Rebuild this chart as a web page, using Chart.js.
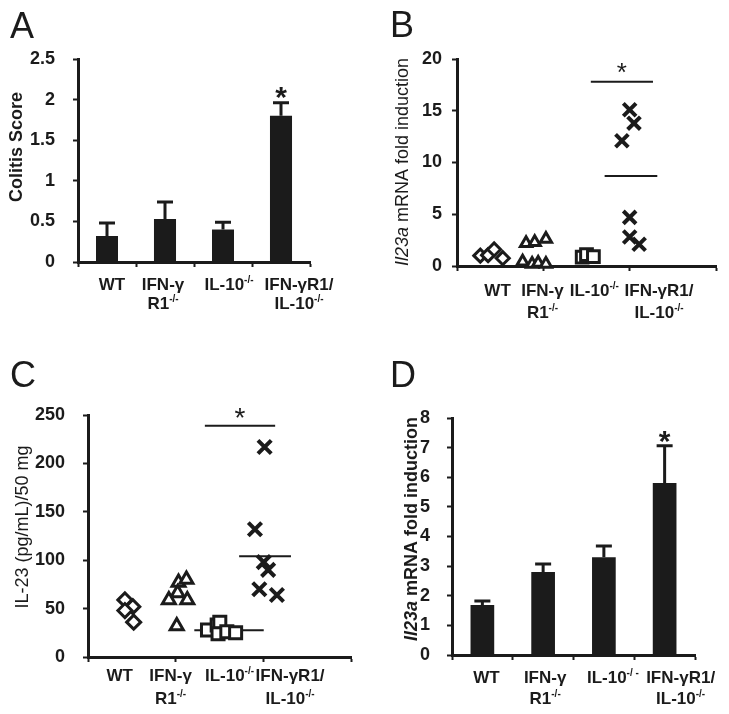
<!DOCTYPE html>
<html>
<head>
<meta charset="utf-8">
<script src="https://cdn.jsdelivr.net/npm/chart.js@4.4.0/dist/chart.umd.min.js"></script>
<style>
  body { margin: 0; background: #fff; }
  #fig { position: relative; width: 729px; height: 714px; }
  canvas { position: absolute; }
</style>
</head>
<body>
<div id="fig">
  <canvas id="chartA" width="365" height="340" style="left:0;top:0;width:365px;height:340px"></canvas>
  <canvas id="chartB" width="364" height="340" style="left:365px;top:0;width:364px;height:340px"></canvas>
  <canvas id="chartC" width="365" height="374" style="left:0;top:340px;width:365px;height:374px"></canvas>
  <canvas id="chartD" width="364" height="374" style="left:365px;top:340px;width:364px;height:374px"></canvas>
</div>
<script>
const ink = '#1b1b1b';
const font = '"Liberation Sans", Arial, sans-serif';

// groups (x labels, "^" starts a superscript)
const groups = ['WT', 'IFN-γR1-/-', 'IL-10-/-', 'IFN-γR1/IL-10-/-'];
const groupLabels = [['WT'], ['IFN-γ', 'R1^-/-'], ['IL-10^-/-'], ['IFN-γR1/', 'IL-10^-/-']];
const groupLabelsD = [['WT'], ['IFN-γ', 'R1^-/-'], ['IL-10^-/ -'], ['IFN-γR1/', 'IL-10^-/-']];

// A - colitis score, mean and SEM
const colitisMean = [0.32, 0.53, 0.40, 1.80];
const colitisSem = [0.16, 0.21, 0.09, 0.16];

// B - Il23a mRNA fold induction per mouse, [x position, value]
const il23aWT = [[0.27, 1.0], [0.36, 1.05], [0.43, 1.6], [0.53, 0.75]];
const il23aR1 = [[0.80, 2.2], [0.90, 2.3], [1.03, 2.6], [0.76, 0.4], [0.87, 0.2], [0.94, 0.3], [1.03, 0.2]];
const il23aIL10 = [[1.45, 0.85], [1.50, 1.1], [1.58, 0.9]];
const il23aDKO = [[2.00, 15.1], [2.05, 13.8], [1.91, 12.1], [2.00, 4.7], [2.00, 2.8], [2.11, 2.1]];
const il23aDKOMean = [1.71, 2.32, 8.7];   // from x, to x, value
const il23aSig = [1.55, 2.27, 17.8];

// C - IL-23 protein (pg/mL)/50 mg per mouse
const il23WT = [[0.42, 59], [0.51, 52], [0.42, 48], [0.52, 36]];
const il23R1 = [[1.03, 77], [1.12, 80], [1.02, 66], [0.92, 59], [1.13, 59], [1.01, 32]];
const il23IL10 = [[1.36, 28], [1.47, 33], [1.50, 36], [1.48, 24], [1.58, 26], [1.68, 25]];
const il23DKO = [[2.01, 217], [1.90, 132], [2.00, 98], [2.05, 90], [1.95, 70], [2.15, 64]];
const il23IL10Mean = [1.21, 2.00, 27.6];
const il23DKOMean = [1.72, 2.31, 104];
const il23Sig = [1.33, 2.13, 239];

// D - Il23a mRNA fold induction, mean and SEM
const il23aBarMean = [1.69, 2.80, 3.30, 5.81];
const il23aBarSem = [0.13, 0.27, 0.38, 1.25];

function parseLabel(s) {
  const [base, sup] = s.split('^');
  const out = [{ t: base }];
  if (sup) out.push({ t: sup, sup: true });
  return out;
}

function drawRuns(ctx, parts, cx, y, size, weight) {
  const fontFor = p => `${p.italic ? 'italic ' : ''}${weight} ${p.sup ? Math.round(size * 0.6) : size}px ${font}`;
  let total = 0;
  parts.forEach(p => { ctx.font = fontFor(p); p.w = ctx.measureText(p.t).width; total += p.w; });
  let x = cx - total / 2;
  ctx.textAlign = 'left';
  parts.forEach(p => {
    ctx.font = fontFor(p);
    ctx.fillText(p.t, x, p.sup ? y - size * 0.42 : y);
    x += p.w;
  });
}

function drawStar(ctx, x, cy, size, weight) {
  ctx.font = `${weight} ${size}px ${font}`;
  ctx.textAlign = 'center';
  ctx.textBaseline = 'alphabetic';
  const m = ctx.measureText('*');
  ctx.fillText('*', x, cy + (m.actualBoundingBoxAscent - m.actualBoundingBoxDescent) / 2);
}

// panel letter, y title and x labels
function decor(cfg) {
  return {
    id: 'decor',
    afterDraw(chart) {
      const ctx = chart.ctx;
      const x = chart.scales.x;
      const bottom = chart.chartArea.bottom;
      ctx.save();
      ctx.fillStyle = ink;
      ctx.textBaseline = 'alphabetic';
      ctx.textAlign = 'left';
      ctx.font = `36px ${font}`;
      ctx.fillText(cfg.letter, cfg.letterAt[0], cfg.letterAt[1]);

      ctx.save();
      ctx.translate(cfg.titleAt[0], cfg.titleAt[1]);
      ctx.rotate(-Math.PI / 2);
      ctx.textBaseline = 'middle';
      drawRuns(ctx, cfg.title, 0, 0, 18, cfg.titleWeight);
      ctx.restore();

      ctx.textBaseline = 'alphabetic';
      cfg.labels.forEach((lines, i) => {
        const cx = x.getPixelForValue(cfg.labelX[i]) + (cfg.labelShift ? cfg.labelShift[i] : 0);
        lines.forEach((line, j) => {
          drawRuns(ctx, parseLabel(line), cx, bottom + cfg.labelRows[j] + 6, 17, 'bold');
        });
      });
      ctx.restore();
    }
  };
}

function errorBars(sem, starIndex, starLift) {
  return {
    id: 'errorBars',
    afterDatasetsDraw(chart) {
      const { ctx, scales: { x, y } } = chart;
      const mean = chart.data.datasets[0].data;
      ctx.save();
      ctx.strokeStyle = ink;
      ctx.fillStyle = ink;
      ctx.lineWidth = 3;
      mean.forEach((m, i) => {
        const px = x.getPixelForValue(i);
        const top = y.getPixelForValue(m + sem[i]);
        ctx.beginPath();
        ctx.moveTo(px, y.getPixelForValue(m));
        ctx.lineTo(px, top);
        ctx.moveTo(px - 8, top);
        ctx.lineTo(px + 8, top);
        ctx.stroke();
        if (i === starIndex) drawStar(ctx, px, top - starLift, 30, 'bold');
      });
      ctx.restore();
    }
  };
}

function sigStar(line, lift, size) {
  return {
    id: 'sigStar',
    afterDatasetsDraw(chart) {
      const { ctx, scales: { x, y } } = chart;
      ctx.save();
      ctx.fillStyle = ink;
      const px = (x.getPixelForValue(line[0]) + x.getPixelForValue(line[1])) / 2;
      drawStar(ctx, px, y.getPixelForValue(line[2]) - lift, size, 'normal');
      ctx.restore();
    }
  };
}

function yAxis(min, max, step, pad) {
  return {
    min, max,
    ticks: { stepSize: step, padding: pad, color: ink, font: { family: font, size: 18, weight: 'bold' }, callback: v => String(v) },
    grid: { drawOnChartArea: false, drawTicks: true, tickLength: 5, tickWidth: 2, color: ink },
    border: { display: true, color: ink, width: 3 },
    afterFit: s => { s.width = 60; }
  };
}

function xCategory() {
  return {
    type: 'category', offset: true,
    ticks: { display: false },
    grid: { offset: true, drawOnChartArea: false, drawTicks: true, tickLength: 5, tickWidth: 2, color: ink },
    border: { display: true, color: ink, width: 3 },
    afterFit: s => { s.height = 10; }
  };
}

function xLinear() {
  return {
    type: 'linear', min: 0, max: 3,
    ticks: { display: false, stepSize: 1 },
    grid: { drawOnChartArea: false, drawTicks: true, tickLength: 5, tickWidth: 2, color: ink },
    border: { display: true, color: ink, width: 3 },
    afterFit: s => { s.height = 10; }
  };
}

function marker(arr, style, r, bw) {
  return {
    data: arr.map(([x, y]) => ({ x, y })),
    pointStyle: style, pointRadius: r, pointBorderWidth: bw,
    pointBorderColor: ink, pointBackgroundColor: '#fff', clip: false
  };
}

function hline(seg, w) {
  return {
    data: [{ x: seg[0], y: seg[2] }, { x: seg[1], y: seg[2] }],
    showLine: true, borderColor: ink, borderWidth: w, pointRadius: 0, clip: false
  };
}

const common = { responsive: false, animation: false, events: [] };
const noPlugins = { legend: { display: false }, tooltip: { enabled: false } };

// A
new Chart(document.getElementById('chartA'), {
  type: 'bar',
  data: {
    labels: groups,
    datasets: [{ data: colitisMean, backgroundColor: ink, barPercentage: 0.38, categoryPercentage: 1 }]
  },
  options: {
    ...common,
    layout: { padding: { left: 18, right: 55, top: 59, bottom: 68 } },
    plugins: noPlugins,
    scales: { x: xCategory(), y: yAxis(0, 2.5, 0.5, 18) }
  },
  plugins: [
    errorBars(colitisSem, 3, 10),
    decor({
      letter: 'A', letterAt: [10, 38], titleAt: [17, 147], titleWeight: 'bold',
      title: [{ t: 'Colitis Score' }],
      labels: groupLabels, labelX: [0, 1, 2, 3], labelShift: [5, -2, 6, 18], labelRows: [22, 41]
    })
  ]
});

// B
new Chart(document.getElementById('chartB'), {
  type: 'scatter',
  data: {
    datasets: [
      marker(il23aWT, 'rectRot', 6.5, 3),
      marker(il23aR1, 'triangle', 6.5, 3),
      marker(il23aIL10, 'rect', 8.3, 3),
      marker(il23aDKO, 'crossRot', 9, 4),
      hline(il23aDKOMean, 2),
      hline(il23aSig, 2)
    ]
  },
  options: {
    ...common,
    layout: { padding: { left: 32, right: 12, top: 59, bottom: 64 } },
    plugins: noPlugins,
    scales: { x: xLinear(), y: yAxis(0, 20, 5, 10) }
  },
  plugins: [
    sigStar(il23aSig, 14, 26),
    decor({
      letter: 'B', letterAt: [25, 37], titleAt: [38, 162], titleWeight: 'normal',
      title: [{ t: 'Il23a', italic: true }, { t: ' mRNA fold induction' }],
      labels: groupLabels, labelX: [0.47, 0.99, 1.59, 2.34], labelRows: [24, 46]
    })
  ]
});

// C
new Chart(document.getElementById('chartC'), {
  type: 'scatter',
  data: {
    datasets: [
      marker(il23WT, 'rectRot', 7, 3),
      marker(il23R1, 'triangle', 7.5, 3),
      marker(il23IL10, 'rect', 8.5, 3),
      marker(il23DKO, 'crossRot', 9.4, 4),
      hline(il23IL10Mean, 2),
      hline(il23DKOMean, 2),
      hline(il23Sig, 2)
    ]
  },
  options: {
    ...common,
    layout: { padding: { left: 28, right: 7, top: 75, bottom: 47 } },
    plugins: noPlugins,
    scales: { x: xLinear(), y: yAxis(0, 250, 50, 18) }
  },
  plugins: [
    sigStar(il23Sig, 13, 28),
    decor({
      letter: 'C', letterAt: [10, 47], titleAt: [23, 187], titleWeight: 'normal',
      title: [{ t: 'IL-23 (pg/mL)/50 mg' }],
      labels: groupLabels, labelX: [0.36, 0.94, 1.61, 2.30], labelRows: [18, 41]
    })
  ]
});

// D
new Chart(document.getElementById('chartD'), {
  type: 'bar',
  data: {
    labels: groups,
    datasets: [{ data: il23aBarMean, backgroundColor: ink, barPercentage: 0.39, categoryPercentage: 1 }]
  },
  options: {
    ...common,
    layout: { padding: { left: 27, right: 34, top: 78, bottom: 49 } },
    plugins: noPlugins,
    scales: { x: xCategory(), y: yAxis(0, 8, 1, 17) }
  },
  plugins: [
    errorBars(il23aBarSem, 3, 9),
    decor({
      letter: 'D', letterAt: [25, 47], titleAt: [47, 189], titleWeight: 'bold',
      title: [{ t: 'Il23a', italic: true }, { t: ' mRNA fold induction' }],
      labels: groupLabelsD, labelX: [0, 1, 2, 3], labelShift: [4, 2, 9, 16], labelRows: [22, 43]
    })
  ]
});
</script>
</body>
</html>
